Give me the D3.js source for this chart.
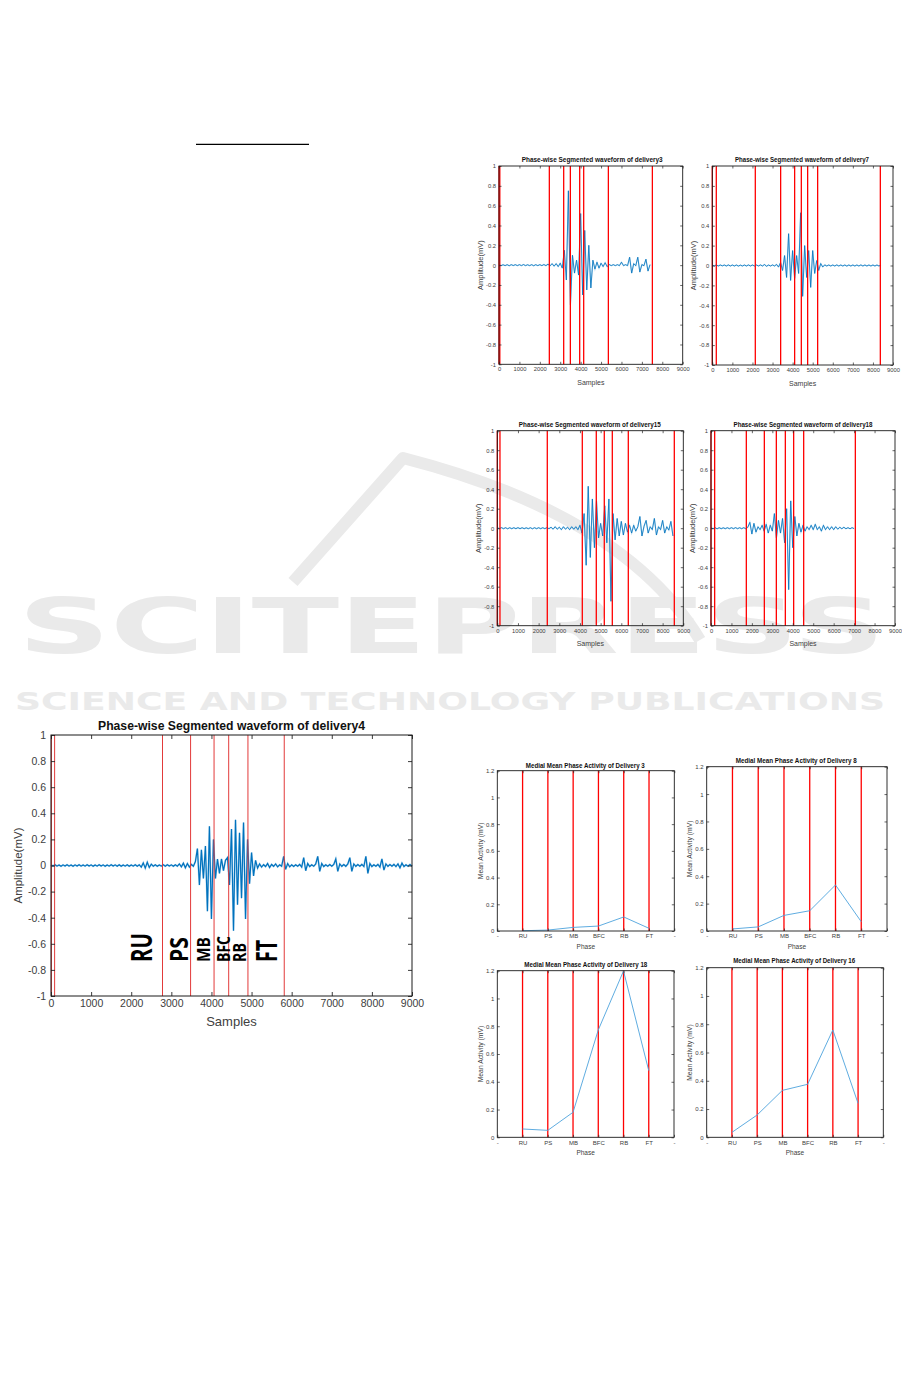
<!DOCTYPE html>
<html><head><meta charset="utf-8">
<script src="https://cdn.jsdelivr.net/npm/d3@7"></script>
<style>
body{margin:0;background:#fff}
svg{display:block}
text{font-family:"Liberation Sans",Arial,Helvetica,sans-serif}
</style>
</head><body>
<script>
// ---------------- DATA ----------------
const xTicksWave = [0,1000,2000,3000,4000,5000,6000,7000,8000,9000];
const yTicksWave = [-1,-0.8,-0.6,-0.4,-0.2,0,0.2,0.4,0.6,0.8,1];
const yTicksActivity = [0,0.2,0.4,0.6,0.8,1,1.2];
const phaseTicks = ["-","RU","PS","MB","BFC","RB","FT","-"];
const phaseNames = ["RU","PS","MB","BFC","RB","FT"];

// delivery 4 (large) – sampled every 50 samples
const step4 = 50;
const wave4 = [
 .005,-.004,.006,-.005,.004,-.006,.005,-.004,.006,-.005,
 .004,-.006,.005,-.004,.006,-.005,.004,-.005,.006,-.004,
 .005,-.006,.004,-.005,.006,-.004,.005,-.006,.004,-.005,
 .006,-.004,.005,-.005,.006,-.006,.004,-.005,.005,-.006,
 .004,-.005,.006,-.005,.006,-.012,.02,-.02,.025,-.015,
 .01,-.005,.005,-.006,.004,-.005,.006,-.005,.006,-.004,
 .005,-.006,.005,-.005,.012,-.01,.018,-.018,.015,-.012,
 .008,-.006,.03,.13,-.15,.12,-.1,.15,-.35,.3,
 -.41,.2,-.1,.05,-.06,.05,-.04,.04,.06,-.15,
 .28,-.5,.35,-.3,.25,-.25,.33,-.41,.2,-.14,
 .1,-.08,.04,-.02,.012,-.012,.006,-.008,.015,-.015,
 .008,-.006,.012,-.01,.006,-.006,.07,-.03,.015,-.01,
 .006,-.008,.006,-.006,.008,-.012,.06,-.04,.015,-.008,
 .006,-.006,.012,.07,-.045,.015,-.008,.006,-.006,.008,
 -.006,.008,.05,-.045,.012,-.006,.008,-.006,.012,.06,
 -.045,.012,-.006,.008,-.006,.008,-.008,.07,-.06,.015,
 -.008,.006,-.006,.008,-.012,.05,-.035,.012,-.006,.008,
 -.006,.008,-.008,.012,-.018,.018,-.008,.006,-.006,.008,
 -.006
];
const cuts4 = [10,90,2780,3480,4065,4430,4910,5815];
const labelPos4 = [2261,3191,3797,4296,4704,5377];

// small waveforms – sampled every 100 samples
const stepSmall = 100;
const wave3 = [
 .005,-.005,.004,-.005,.005,-.006,.005,-.004,.005,-.005,
 .005,-.005,.006,-.005,.004,-.005,.005,-.006,.005,-.005,
 .005,-.005,.006,-.005,.01,-.008,.015,-.01,.015,-.015,
 .02,-.03,.15,-.15,.75,-.4,.1,-.08,.05,-.1,
 .52,-.3,.35,-.25,.2,-.23,.05,-.04,.03,-.03,
 .02,-.015,.025,-.015,.006,-.005,.005,-.005,.005,-.005,
 .03,-.005,.005,-.005,.08,-.08,.015,-.006,.08,-.07,
 .006,-.006,.06,-.06,.005
];
const cuts3 = [0,40,2466,3169,3496,3953,4149,5358,7514];

const wave7 = [
 .005,-.005,.006,-.005,.005,-.004,.005,-.005,.006,-.005,
 .005,-.005,.005,-.006,.004,-.005,.005,-.005,.006,-.005,
 .005,-.005,.005,-.005,.006,-.005,.01,-.008,.005,-.005,
 .006,-.005,.01,-.015,.03,-.05,.1,-.12,.32,-.15,
 .15,-.13,.1,-.08,.53,-.31,.2,-.12,.15,-.22,
 .15,-.08,.05,-.05,.02,-.015,.006,-.005,.005,-.005,
 .005,-.005,.006,-.005,.005,-.005,.005,-.006,.005,-.005,
 .005,-.005,.005,-.005,.006,-.005,.005,-.005,.005,-.005,
 .005,-.005,.005,-.005,.005
];
const cuts7 = [0,199,2142,3404,4101,4434,4749,5247,8369];

const wave15 = [
 .005,-.005,.006,-.005,.005,-.006,.005,-.005,.005,-.005,
 .006,-.005,.005,-.005,.004,-.005,.005,-.006,.005,-.005,
 .005,-.005,.005,-.005,.006,-.005,.01,-.01,.015,-.01,
 .01,-.015,.015,-.01,.01,-.015,.015,-.01,.015,-.015,
 .03,-.05,.15,-.38,.43,-.3,.3,-.2,.28,-.1,
 .05,-.08,.23,-.15,.3,-.75,.15,-.12,.1,-.08,
 .07,-.07,.05,-.04,.03,-.05,.03,-.03,.015,.12,
 -.08,.02,.08,-.05,.015,-.015,.1,-.07,.015,-.015,
 .08,-.05,.015,-.02,.07,-.08
];
const cuts15 = [0,129,2419,4113,4790,5177,5565,6339,8565];

const wave18 = [
 .005,-.005,.005,-.006,.005,-.005,.004,-.005,.005,-.005,
 .005,-.005,.006,-.005,.005,-.005,.005,-.005,.01,.06,
 -.06,.05,-.04,.015,-.015,.03,-.03,.04,-.05,.03,
 -.03,.15,-.1,.08,-.05,.1,-.15,.2,-.63,.28,
 -.2,.12,-.08,.05,-.04,.03,-.03,.015,-.015,.03,
 -.015,.04,-.015,.015,-.03,.03,-.015,.015,-.015,.015,
 -.015,.015,-.01,.01,-.006,.01,-.006,.006,-.006,.006,
 -.005
];
const cuts18 = [0,179,1728,2609,3196,3636,4043,4533,7060];

// medial mean phase activity (RU..FT)
const activity3  = [0.002,0.007,0.027,0.037,0.105,0.02];
const activity8  = [0.015,0.03,0.114,0.148,0.336,0.068];
const activity18 = [0.06,0.05,0.18,0.773,1.198,0.48];
const activity16 = [0.035,0.158,0.332,0.375,0.759,0.24];

// ---------------- DRAW ----------------
const svg = d3.select("body").append("svg").attr("width",902).attr("height",1378);
const fmt = d => String(d);

// watermark
const wm = svg.append("g").attr("fill","none").attr("stroke","#eaeaea");
wm.append("path").attr("stroke-width",12).attr("stroke-linejoin","round")
  .attr("d","M293,582 L403,458 C520,488 640,540 700,640");
svg.append("text").attr("x",18).attr("y",653).attr("textLength",867)
  .attr("lengthAdjust","spacingAndGlyphs").attr("fill","#eaeaea")
  .style("font-family","'DejaVu Sans'").style("font-weight","bold").style("font-size","77px")
  .text("SCITEPRESS");
svg.append("text").attr("x",15).attr("y",710).attr("textLength",870)
  .attr("lengthAdjust","spacingAndGlyphs").attr("fill","#eaeaea")
  .style("font-family","'DejaVu Sans'").style("font-weight","bold").style("font-size","25px")
  .text("SCIENCE AND TECHNOLOGY PUBLICATIONS");

// short rule at top
svg.append("line").attr("x1",196).attr("x2",309).attr("y1",144.3).attr("y2",144.3)
  .attr("stroke","#000").attr("stroke-width",1.3);

function addFrameAxes(g, x, y, o, xTickVals, xFmt, yTickVals){
  const L = o.tick;
  const ax = g.append("g").attr("transform",`translate(0,${o.b})`)
    .call(d3.axisBottom(x).tickValues(xTickVals).tickSize(-L).tickPadding(o.xPad).tickFormat(xFmt));
  const at = g.append("g").attr("transform",`translate(0,${o.t})`)
    .call(d3.axisTop(x).tickValues(xTickVals).tickSize(-L).tickFormat(""));
  const ay = g.append("g").attr("transform",`translate(${o.l},0)`)
    .call(d3.axisLeft(y).tickValues(yTickVals).tickSize(-L).tickPadding(o.yPad).tickFormat(fmt));
  const ar = g.append("g").attr("transform",`translate(${o.r},0)`)
    .call(d3.axisRight(y).tickValues(yTickVals).tickSize(-L).tickFormat(""));
  [ax,at,ay,ar].forEach(a=>{
    a.select(".domain").remove();
    a.selectAll(".tick line").attr("stroke","#262626").attr("stroke-width",o.tickW||0.8);
    a.selectAll("text").attr("fill","#404040").style("font-size",o.tickFs+"px")
      .style("font-family","'Liberation Sans',Arial,sans-serif");
  });
  g.append("rect").attr("x",o.l).attr("y",o.t).attr("width",o.r-o.l).attr("height",o.b-o.t)
    .attr("fill","none").attr("stroke","#1a1a1a").attr("stroke-width",o.frameW||1);
}

function waveChart(o){
  const g = svg.append("g");
  const x = d3.scaleLinear().domain([0,9000]).range([o.l,o.r]);
  const y = d3.scaleLinear().domain([-1,1]).range([o.b,o.t]);
  const pts = o.data.map((v,i)=>[i*o.step, v]);
  const line = d3.line().x(d=>x(d[0])).y(d=>y(d[1]));
  g.append("path").attr("d",line(pts)).attr("fill","none")
    .attr("stroke","#7dbbe6").attr("stroke-width",o.lw*1.6).attr("opacity",0.5);
  g.append("path").attr("d",line(pts)).attr("fill","none")
    .attr("stroke","#0072bd").attr("stroke-width",o.lw);
  g.selectAll("line.cut").data(o.cuts).join("line").attr("class","cut")
    .attr("x1",d=>x(d)).attr("x2",d=>x(d)).attr("y1",o.t).attr("y2",o.b)
    .attr("stroke",o.cutColor).attr("stroke-width",o.cutW);
  addFrameAxes(g,x,y,o,xTicksWave,fmt,yTicksWave);
  g.append("text").attr("x",o.tx).attr("y",o.ty).attr("text-anchor","middle")
    .attr("textLength",o.tl).attr("lengthAdjust","spacingAndGlyphs")
    .style("font-weight","bold").style("font-size",o.titleFs+"px").attr("fill","#111")
    .text(o.title);
  g.append("text").attr("x",(o.l+o.r)/2).attr("y",o.b+o.samplesDy).attr("text-anchor","middle")
    .style("font-size",o.labFs+"px").attr("fill","#404040").text("Samples");
  g.append("text").attr("transform",`translate(${o.l+o.ylabDx},${(o.t+o.b)/2}) rotate(-90)`)
    .attr("text-anchor","middle").attr("dy","0.35em")
    .style("font-size",o.ylabFs+"px").attr("fill","#404040").text("Amplitude(mV)");
  return {g,x,y};
}

function activityChart(o){
  const g = svg.append("g");
  const x = d3.scaleLinear().domain([0,phaseTicks.length-1]).range([o.l,o.r]);
  const y = d3.scaleLinear().domain([0,1.2]).range([o.b,o.t]);
  const idx = phaseNames.map((p,i)=>i+1);
  g.selectAll("line.ph").data(idx).join("line").attr("class","ph")
    .attr("x1",d=>x(d)).attr("x2",d=>x(d)).attr("y1",o.t).attr("y2",o.b)
    .attr("stroke","#ff0000").attr("stroke-width",1.3);
  g.append("path").attr("d",d3.line().x((d,i)=>x(i+1)).y(d=>y(d))(o.data))
    .attr("fill","none").attr("stroke","#4da3dc").attr("stroke-width",0.9);
  addFrameAxes(g,x,y,o,d3.range(phaseTicks.length),i=>phaseTicks[i],yTicksActivity);
  g.append("text").attr("x",o.tx).attr("y",o.ty).attr("text-anchor","middle")
    .attr("textLength",o.tl).attr("lengthAdjust","spacingAndGlyphs")
    .style("font-weight","bold").style("font-size","6.5px").attr("fill","#111").text(o.title);
  g.append("text").attr("x",(o.l+o.r)/2).attr("y",o.b+17.5).attr("text-anchor","middle")
    .style("font-size","6.5px").attr("fill","#404040").text("Phase");
  g.append("text").attr("transform",`translate(${o.l-17},${(o.t+o.b)/2}) rotate(-90)`)
    .attr("text-anchor","middle").attr("dy","0.35em")
    .style("font-size","6.8px").attr("fill","#404040").text("Mean Activity (mV)");
}

// large chart: delivery 4
const big = waveChart({l:51,r:412,t:735,b:996,data:wave4,step:step4,cuts:cuts4,lw:1.2,
  cutColor:"#e23a3a",cutW:1,tick:4,tickW:0.9,xPad:4,yPad:5,tickFs:10.5,frameW:1,
  title:"Phase-wise Segmented waveform of delivery4",tx:231.5,ty:730,tl:267,titleFs:12,
  samplesDy:30,labFs:13,ylabDx:-33,ylabFs:11.5});
big.g.selectAll("text.phase").data(phaseNames).join("text").attr("class","phase")
  .attr("transform",(d,i)=>`translate(${big.x(labelPos4[i])},962) rotate(-90)`)
  .attr("dy","0.36em")
  .attr("textLength",(d,i)=>[29,25,25,26,19,22][i]).attr("lengthAdjust","spacingAndGlyphs")
  .style("font-family","'Open Sans',sans-serif").style("font-weight","bold")
  .style("font-size",(d,i)=>[28,25,18,18,18,28][i]+"px").attr("fill","#000")
  .text(d=>d);

// small waveform charts
const smallBase = {step:stepSmall,lw:0.8,cutColor:"#ff0000",cutW:1.3,tick:2.5,tickW:0.7,xPad:3,yPad:3,
  tickFs:5.8,frameW:0.9,titleFs:7,samplesDy:20.5,labFs:7,ylabDx:-18.5,ylabFs:7.5};
waveChart(Object.assign({},smallBase,{l:499,r:682.7,t:166,b:364.3,data:wave3,cuts:cuts3,
  title:"Phase-wise Segmented waveform of delivery3",tx:592.2,ty:161.5,tl:141}));
waveChart(Object.assign({},smallBase,{l:712.3,r:893,t:166,b:365,data:wave7,cuts:cuts7,
  title:"Phase-wise Segmented waveform of delivery7",tx:802,ty:161.5,tl:134}));
waveChart(Object.assign({},smallBase,{l:497.3,r:683.3,t:430.7,b:625.7,data:wave15,cuts:cuts15,
  title:"Phase-wise Segmented waveform of delivery15",tx:589.8,ty:426.5,tl:142}));
waveChart(Object.assign({},smallBase,{l:711,r:895,t:430.7,b:625.7,data:wave18,cuts:cuts18,
  title:"Phase-wise Segmented waveform of delivery18",tx:803,ty:426.5,tl:139}));

// activity charts
const actBase = {tick:2.5,tickW:0.7,xPad:3,yPad:3,tickFs:6,frameW:0.9};
activityChart(Object.assign({},actBase,{l:497.3,r:674.3,t:770.7,b:931,data:activity3,
  title:"Medial Mean Phase Activity of Delivery 3",tx:585.3,ty:767.5,tl:119}));
activityChart(Object.assign({},actBase,{l:706.7,r:887,t:766.7,b:931,data:activity8,
  title:"Medial Mean Phase Activity of Delivery 8",tx:796.2,ty:762.5,tl:121}));
activityChart(Object.assign({},actBase,{l:497.3,r:674,t:970.7,b:1137.3,data:activity18,
  title:"Medial Mean Phase Activity of Delivery 18",tx:585.8,ty:967,tl:123}));
activityChart(Object.assign({},actBase,{l:706.7,r:883.3,t:967.7,b:1137.3,data:activity16,
  title:"Medial Mean Phase Activity of Delivery 16",tx:794.2,ty:963,tl:122}));
</script>
</body></html>
